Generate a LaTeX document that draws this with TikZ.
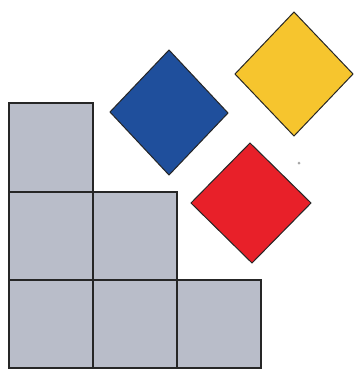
\documentclass[tikz,border=0pt]{standalone}
\begin{document}
\begin{tikzpicture}[x=1pt,y=-1pt,
  cell/.style={fill=cellgray,draw=black!85,line width=1.1pt},
  dia/.style={draw=black!85,line width=1pt,line join=miter}]
\definecolor{cellgray}{HTML}{B9BDC9}
\definecolor{dblue}{HTML}{1F4F9C}
\definecolor{dyellow}{HTML}{F6C52E}
\definecolor{dred}{HTML}{E82029}
\useasboundingbox (0,0) rectangle (355,370);
\fill[white] (0,0) rectangle (355,370);
% grid cells
\draw[cell] (9,103) rectangle (93,192);
\draw[cell] (9,192) rectangle (93,280);
\draw[cell] (93,192) rectangle (177,280);
\draw[cell] (9,280) rectangle (93,368);
\draw[cell] (93,280) rectangle (177,368);
\draw[cell] (177,280) rectangle (261,368);
% diamonds
\draw[dia,fill=dblue] (169,50) -- (228,113) -- (169,175) -- (110,112) -- cycle;
\draw[dia,fill=dyellow] (294,12) -- (353,74) -- (294,136) -- (235,74) -- cycle;
\draw[dia,fill=dred] (250,143) -- (311,203) -- (252,263) -- (191,203) -- cycle;
\fill[gray!70] (299,163) circle (1.5);
\end{tikzpicture}
\end{document}
